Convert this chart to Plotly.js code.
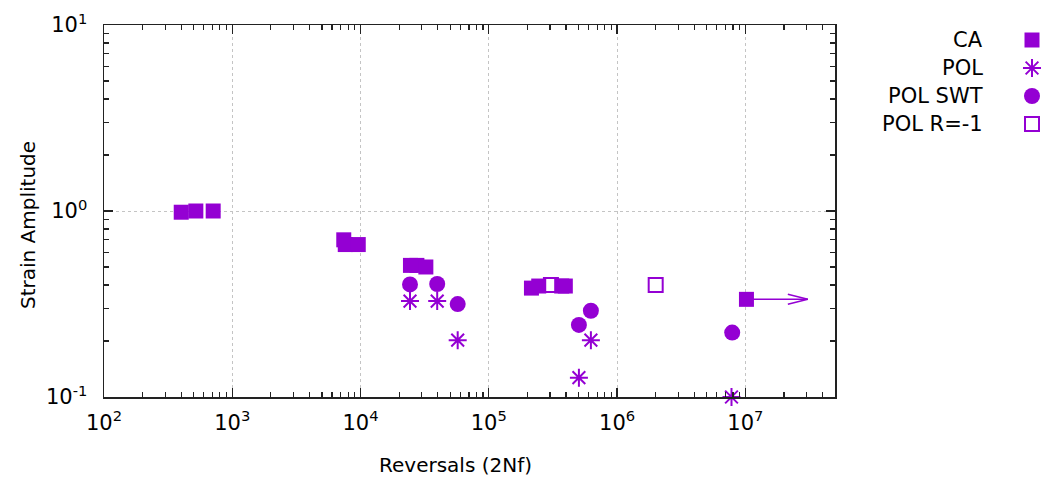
<!DOCTYPE html>
<html>
<head>
<meta charset="utf-8">
<script src="https://cdn.plot.ly/plotly-3.0.1.min.js"></script>
<style>html,body{margin:0;padding:0;background:#fff;}#chart{width:1044px;height:480px;}</style>
</head>
<body>
<div id="chart"></div>
<script>
// ---- data ----
var seriesNames = ["CA", "POL", "POL SWT", "POL R=-1"];

var caCycles = [400, 520, 710, 7400, 7600, 9600, 24500, 27500, 32300, 215000, 245000, 370000, 395000, 1.02e7];
var caStrain = [0.985, 1.0, 1.0, 0.70, 0.66, 0.66, 0.51, 0.51, 0.50, 0.385, 0.395, 0.395, 0.395, 0.335];

var polCycles = [24300, 39600, 57200, 504000, 625000, 7.8e6];
var polStrain = [0.328, 0.328, 0.202, 0.127, 0.202, 0.10];

var swtCycles = [24300, 39600, 57200, 504000, 625000, 7.9e6];
var swtStrain = [0.403, 0.405, 0.316, 0.244, 0.291, 0.222];

var rCycles = [305000, 2.0e6];
var rStrain = [0.40, 0.40];

// runout arrow: from last CA point to this cycle count
var runoutTo = 3.07e7;

// tick labels
var xTickVals = [1e2, 1e3, 1e4, 1e5, 1e6, 1e7];
var xTickText = ["10<sup>2</sup>", "10<sup>3</sup>", "10<sup>4</sup>", "10<sup>5</sup>", "10<sup>6</sup>", "10<sup>7</sup>"];
var yTickVals = [0.1, 1, 10];
var yTickText = ["10<sup>-1</sup>", "10<sup>0</sup>", "10<sup>1</sup>"];
var xTitle = "Reversals (2Nf)";
var yTitle = "Strain Amplitude";

var purple = "#9400d3";
var font = "DejaVu Sans, Verdana, sans-serif";

function minorVals(lo, hi) {
  var out = [];
  for (var e = lo; e <= hi; e++) for (var m = 2; m <= 9; m++) out.push(m * Math.pow(10, e));
  return out;
}

// arrow geometry (derived from the runout point)
var rx0 = caCycles[caCycles.length - 1], ry = caStrain[caStrain.length - 1];
var headBack = runoutTo / Math.pow(10, 20 / 128.3);
var headUp = ry * Math.pow(10, 5 / 186), headDn = ry / Math.pow(10, 5 / 186);

var symCA = {symbol: "square", size: 15, color: purple, line: {width: 0}};
var symPOL = {symbol: "asterisk-open", size: 15, color: purple, line: {width: 2, color: purple}};
var symSWT = {symbol: "circle", size: 16, color: purple, line: {width: 0}};
var symR = {symbol: "square-open", size: 14, color: purple, line: {width: 2, color: purple}};

var traces = [
  {x: [null], y: [null], xaxis: "x3", yaxis: "y3", type: "scatter", mode: "markers", hoverinfo: "skip"},
  {x: caCycles, y: caStrain, type: "scatter", mode: "markers", name: seriesNames[0], cliponaxis: false, marker: symCA},
  {x: polCycles, y: polStrain, type: "scatter", mode: "markers", name: seriesNames[1], cliponaxis: false, marker: symPOL},
  {x: swtCycles, y: swtStrain, type: "scatter", mode: "markers", name: seriesNames[2], cliponaxis: false, marker: symSWT},
  {x: rCycles, y: rStrain, type: "scatter", mode: "markers", name: seriesNames[3], cliponaxis: false, marker: symR},
  {x: [rx0, runoutTo, null, headBack, runoutTo, headBack], y: [ry, ry, null, headUp, ry, headDn],
   type: "scatter", mode: "lines", line: {color: purple, width: 1.5}, hoverinfo: "skip", cliponaxis: false}
];
traces.forEach(function (t) { t.showlegend = false; });

var W = 1044, H = 480, L = 104, R = 835, T = 25, B = 397;
var pw = W - L, ph = B - T;

// custom legend (text on the left, symbol on the right, as in the reference)
var legendRow = [0.5, 1.5, 2.5, 3.5];
var legSymbols = [symCA, symPOL, symSWT, symR];
var annotations = [];
for (var i = 0; i < seriesNames.length; i++) {
  traces.push({x: [0.5], y: [legendRow[i]], xaxis: "x2", yaxis: "y2", type: "scatter", mode: "markers",
    marker: legSymbols[i], showlegend: false, hoverinfo: "skip", cliponaxis: false});
  annotations.push({xref: "paper", yref: "y2", x: (985 - L) / pw, y: legendRow[i], xanchor: "right", yanchor: "middle",
    text: seriesNames[i], showarrow: false, font: {family: font, size: 21, color: "#000"}});
}
// axis titles
annotations.push({xref: "paper", yref: "paper", x: (455 - L) / pw, y: (B - 465) / ph, xanchor: "center", yanchor: "middle",
  text: xTitle, showarrow: false, font: {family: font, size: 20, color: "#000"}});
annotations.push({xref: "paper", yref: "paper", x: (28 - L) / pw, y: (B - 225) / ph, xanchor: "center", yanchor: "middle",
  textangle: -90, text: yTitle, showarrow: false, font: {family: font, size: 20, color: "#000"}});

var axisCommon = {
  type: "log", showline: true, linecolor: "#222", linewidth: 1.5, mirror: "ticks",
  ticks: "inside", ticklen: 9, tickwidth: 1.2, tickcolor: "#222",
  showgrid: true, gridcolor: "#c4c4c4", griddash: "dot", gridwidth: 1,
  zeroline: false, tickmode: "array",
  tickfont: {family: font, size: 21, color: "#000"}
};
var minorCommon = {
  type: "log", showline: false, mirror: "ticks", ticks: "inside", ticklen: 5, tickwidth: 1.2, tickcolor: "#222",
  showgrid: false, zeroline: false, showticklabels: false, tickmode: "array"
};

var xRange = [2, Math.log10(5e7)], yRange = [-1, 1];

var layout = {
  width: W, height: H,
  margin: {l: L, r: 0, t: T, b: H - B},
  paper_bgcolor: "#fff", plot_bgcolor: "#fff",
  showlegend: false,
  font: {family: font, size: 20, color: "#000"},
  xaxis: Object.assign({}, axisCommon, {
    domain: [0, (R - L) / pw], range: xRange,
    tickvals: xTickVals, ticktext: xTickText, ticklabelstandoff: 6
  }),
  yaxis: Object.assign({}, axisCommon, {
    range: yRange, tickvals: yTickVals, ticktext: yTickText, ticklabelstandoff: 11
  }),
  xaxis3: Object.assign({}, minorCommon, {overlaying: "x", anchor: "y3", range: xRange, tickvals: minorVals(2, 7)}),
  yaxis3: Object.assign({}, minorCommon, {overlaying: "y", anchor: "x3", range: yRange, tickvals: minorVals(-1, 0)}),
  xaxis2: {domain: [(1022 - L) / pw, (1042 - L) / pw], range: [0, 1], anchor: "y2",
    visible: false, showgrid: false, zeroline: false, fixedrange: true},
  yaxis2: {domain: [(B - 138) / ph, (B - 26) / ph], range: [4, 0], anchor: "x2",
    visible: false, showgrid: false, zeroline: false, fixedrange: true},
  annotations: annotations
};

Plotly.newPlot("chart", traces, layout, {displayModeBar: false, staticPlot: true});
</script>
</body>
</html>
